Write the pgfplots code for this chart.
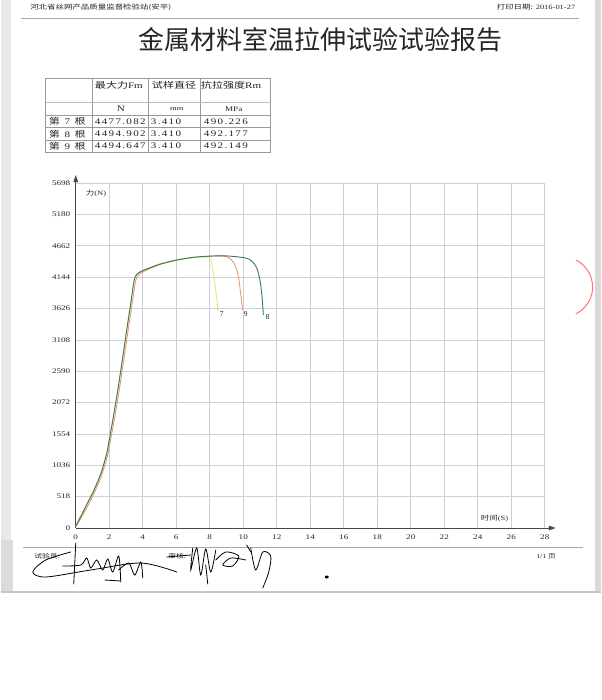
\documentclass[border=0pt]{standalone}
\usepackage{fontspec}
\setmainfont{Liberation Serif}
\newfontfamily\cjk{Noto Sans CJK SC}
\newfontfamily\tabnum[LetterSpace=12]{Liberation Serif}
\usepackage{pgfplots}
\pgfplotsset{compat=1.18}
\usetikzlibrary{arrows.meta}

\definecolor{gridc}{RGB}{205,205,222}
\definecolor{c7}{RGB}{236,228,115}
\definecolor{c9}{RGB}{238,150,120}
\definecolor{c8}{RGB}{52,124,92}
\definecolor{axc}{RGB}{70,70,80}
\definecolor{inkc}{RGB}{35,35,40}

\newcommand{\wide}[1]{\scalebox{1.3}[1]{#1}}

\begin{document}
\begin{tikzpicture}
% page
\fill[white] (0pt,0pt) rectangle (600pt,-700pt);
\fill[gray!30] (594pt,0pt) rectangle (600pt,-592pt);
\fill[gray!18] (0pt,0pt) rectangle (10pt,-540pt);
\fill[gray!28] (0pt,-540pt) rectangle (12pt,-592pt);
\draw[gray!45, line width=1.5pt] (0pt,-592pt) -- (600pt,-592pt);

% header
\node[anchor=west, inkc, font=\cjk\fontsize{6.5}{7}\selectfont] at (26pt,-7.5pt) {\wide{河北省丝网产品质量监督检验站(安平)}};
\node[anchor=east, inkc, font=\fontsize{6.5}{7}\selectfont] at (578pt,-7.5pt) {\wide{{\cjk 打印日期:} 2016-01-27}};
\draw[gray!70, line width=0.8pt] (20pt,-18pt) -- (578pt,-18pt);

% title
\node[font=\cjk\fontsize{26}{28}\selectfont, text=black!85] at (320pt,-40pt) {金属材料室温拉伸试验试验报告};

% table
\begin{scope}[draw=gray!80, line width=0.6pt]
\draw (45pt,-78pt) rectangle (270pt,-152pt);
\draw (92pt,-78pt) -- (92pt,-152pt);
\draw (148pt,-78pt) -- (148pt,-152pt);
\draw (200pt,-78pt) -- (200pt,-152pt);
\draw[gray!50] (45pt,-102.5pt) -- (270pt,-102.5pt);
\draw (45pt,-115pt) -- (270pt,-115pt);
\draw (45pt,-127.5pt) -- (270pt,-127.5pt);
\draw (45pt,-140pt) -- (270pt,-140pt);
\end{scope}
\begin{scope}[every node/.style={inkc, font=\fontsize{8.5}{9}\selectfont, inner sep=0pt}]
\node[anchor=west] at (94pt,-85pt) {\wide{{\cjk 最大力}Fm}};
\node[anchor=west] at (151pt,-85pt) {\wide{\cjk 试样直径}};
\node[anchor=west] at (200pt,-85pt) {\wide{{\cjk 抗拉强度}Rm}};
\node at (120pt,-109pt) {\wide{N}};
\node at (176pt,-109pt) {\wide{\fontsize{6.5}{7}\selectfont mm}};
\node at (233pt,-109pt) {\wide{\fontsize{7}{7}\selectfont MPa}};
\node[anchor=west] at (48pt,-121.3pt) {\wide{{\cjk 第}\ \,7\ \,{\cjk 根}}};
\node[anchor=west] at (48pt,-133.8pt) {\wide{{\cjk 第}\ \,8\ \,{\cjk 根}}};
\node[anchor=west] at (48pt,-146pt) {\wide{{\cjk 第}\ \,9\ \,{\cjk 根}}};
\node[anchor=west] at (94pt,-121.3pt) {\tabnum\wide{4477.082}};
\node[anchor=west] at (94pt,-133.8pt) {\tabnum\wide{4494.902}};
\node[anchor=west] at (94pt,-146pt) {\tabnum\wide{4494.647}};
\node[anchor=west] at (150pt,-121.3pt) {\tabnum\wide{3.410}};
\node[anchor=west] at (150pt,-133.8pt) {\tabnum\wide{3.410}};
\node[anchor=west] at (150pt,-146pt) {\tabnum\wide{3.410}};
\node[anchor=west] at (203pt,-121.3pt) {\tabnum\wide{490.226}};
\node[anchor=west] at (203pt,-133.8pt) {\tabnum\wide{492.177}};
\node[anchor=west] at (203pt,-146pt) {\tabnum\wide{492.149}};
\end{scope}

% force-time chart
\begin{axis}[
  at={(75pt,-528pt)}, anchor=south west,
  scale only axis,
  width=469pt, height=345pt,
  xmin=0, xmax=28, ymin=0, ymax=5698,
  axis x line=bottom, axis y line=left,
  axis line style={axc, line width=0.8pt},
  x axis line style={-{Triangle[length=7pt,width=4.5pt]}, shorten >=-11pt},
  y axis line style={-{Triangle[length=7pt,width=4.5pt]}, shorten >=-8pt},
  xtick={0,2,...,28},
  ytick={0,518,1036,1554,2072,2590,3108,3626,4144,4662,5180,5698},
  major tick length=0pt,
  grid=major,
  major grid style={gridc, line width=0.6pt},
  /pgf/number format/assume math mode=true,
  /pgf/number format/1000 sep={},
  xticklabel={\wide{\pgfmathprintnumber{\tick}}},
  yticklabel={\wide{\pgfmathprintnumber{\tick}}},
  ticklabel style={inkc, font=\fontsize{7}{7}\selectfont},
  xticklabel style={yshift=-3pt},
  yticklabel style={xshift=-2pt},
  clip=false,
]
\addplot[c9, line width=0.9pt, smooth] coordinates {
(0,20)(0.35,180)(0.78,400)(1.17,620)(1.57,890)(1.92,1220)(2.12,1520)(2.33,1830)
(2.53,2160)(2.74,2540)(2.95,2930)(3.15,3310)(3.36,3690)(3.57,4070)(3.76,4180)
(4.08,4240)(5.0,4350)(6.0,4422)(7.0,4468)(8.0,4490)(8.75,4494)(9.15,4462)
(9.43,4380)(9.68,4200)(9.82,3930)(9.96,3600)};
\addplot[c7, line width=0.9pt, smooth] coordinates {
(0,30)(0.3,200)(0.7,420)(1.1,640)(1.5,910)(1.85,1240)(2.05,1540)(2.25,1850)
(2.45,2180)(2.66,2560)(2.87,2950)(3.07,3330)(3.28,3710)(3.48,4090)(3.66,4200)
(4.0,4255)(5.0,4360)(6.0,4428)(7.0,4468)(7.8,4477)(8.05,4440)(8.15,4310)
(8.25,4150)(8.38,3880)(8.5,3580)};
\addplot[c8, line width=0.9pt, smooth] coordinates {
(0,30)(0.3,190)(0.7,410)(1.1,630)(1.5,900)(1.85,1230)(2.05,1530)(2.25,1840)
(2.45,2170)(2.66,2550)(2.87,2940)(3.07,3320)(3.28,3700)(3.48,4080)(3.65,4190)
(4.0,4250)(5.0,4355)(6.0,4424)(7.0,4470)(8.0,4490)(9.0,4494)(10.1,4462)
(10.5,4410)(10.8,4300)(11.0,4090)(11.12,3830)(11.2,3520)};
\node[inkc, font=\fontsize{7.5}{8}\selectfont] at (axis cs:8.72,3530) {7};
\node[inkc, font=\fontsize{7.5}{8}\selectfont] at (axis cs:10.15,3530) {9};
\node[inkc, font=\fontsize{7.5}{8}\selectfont] at (axis cs:11.45,3490) {8};
\node[inkc, anchor=west, font=\fontsize{6.5}{7}\selectfont] at (axis cs:0.4,5530) {\wide{{\cjk 力}(N)}};
\node[inkc, font=\fontsize{6.5}{7}\selectfont] at (axis cs:25,150) {\wide{{\cjk 时间}(S)}};
\end{axis}

% footer
\draw[gray!70, line width=0.8pt] (22pt,-547pt) -- (582pt,-547pt);
\node[anchor=west, inkc, font=\cjk\fontsize{6}{7}\selectfont] at (30pt,-556pt) {\wide{试验员:}};
\node[anchor=west, inkc, font=\cjk\fontsize{6}{7}\selectfont] at (164pt,-556pt) {\wide{审核:}};
\node[anchor=west, inkc, font=\fontsize{6}{7}\selectfont] at (532pt,-556pt) {\wide{1/1 {\cjk 页}}};

% signatures
\begin{scope}[black, line width=0.8pt, line cap=round]
\draw plot[smooth] coordinates {(70pt,-552pt)(45pt,-560pt)(32pt,-572pt)(45pt,-577pt)(90pt,-570pt)(140pt,-563pt)(176pt,-572pt)};
\draw (75pt,-543pt) -- (73pt,-584pt);
\draw plot[smooth] coordinates {(62pt,-566pt)(80pt,-565pt)(86pt,-558pt)(90pt,-568pt)(96pt,-560pt)(102pt,-570pt)(107pt,-559pt)(112pt,-572pt)(118pt,-556pt)(120pt,-582pt)};
\draw plot[smooth] coordinates {(118pt,-570pt)(128pt,-563pt)(134pt,-575pt)(140pt,-562pt)(142pt,-578pt)};
\draw (104pt,-580pt) -- (120pt,-581pt);
\draw (166pt,-557pt) -- (190pt,-555pt);
\draw plot[smooth] coordinates {(192pt,-548pt)(190pt,-570pt)(196pt,-548pt)(200pt,-575pt)(205pt,-549pt)(210pt,-572pt)(215pt,-550pt)};
\draw plot[smooth] coordinates {(215pt,-560pt)(225pt,-552pt)(238pt,-556pt)(232pt,-566pt)(222pt,-565pt)(230pt,-558pt)(245pt,-560pt)};
\draw plot[smooth] coordinates {(250pt,-548pt)(255pt,-570pt)(262pt,-552pt)(270pt,-556pt)(268pt,-572pt)(262pt,-588pt)};
\draw (205pt,-565pt) -- (207pt,-584pt);
\draw (246pt,-545pt) -- (250pt,-552pt);
\fill (326pt,-577pt) ellipse (2pt and 1.5pt);
\end{scope}

% stamp edge
\draw[red!55, line width=1pt] (575pt,-260pt) arc[start angle=64, end angle=-64, radius=30pt];
\end{tikzpicture}
\end{document}
